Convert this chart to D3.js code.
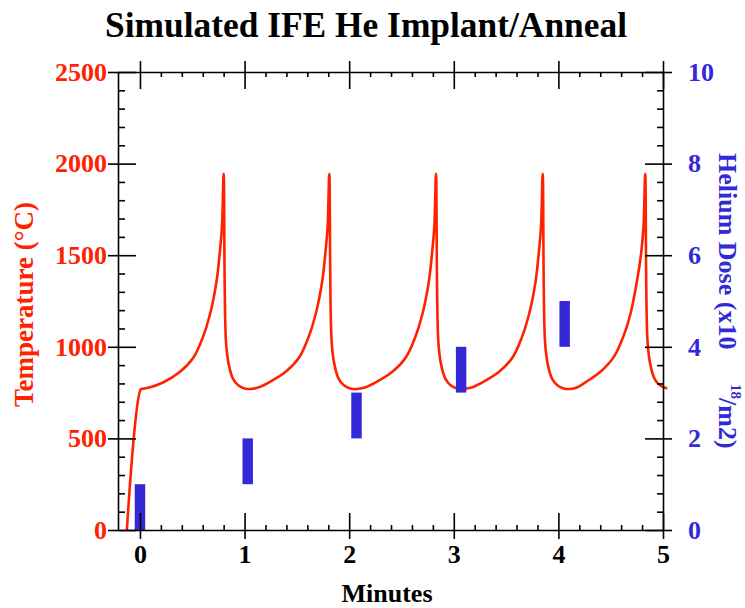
<!DOCTYPE html>
<html><head><meta charset="utf-8">
<script src="https://cdn.jsdelivr.net/npm/d3@7"></script>
<style>body{margin:0;background:#fff}svg{display:block}</style>
</head><body>
<svg id="c" width="745" height="608"></svg>
<script>
// ---- data ----
const times = [-0.125,0.008,0.03,0.08,0.22,0.38,0.51,0.60,0.667,0.73,0.762,0.784,0.80,0.822,0.85,0.89,0.94,1.00,1.06,
  1.12,1.23,1.39,1.52,1.61,1.677,1.74,1.772,1.794,1.81,1.832,1.86,1.90,1.95,2.01,2.07,
  2.14,2.25,2.41,2.54,2.63,2.697,2.76,2.792,2.814,2.83,2.852,2.88,2.92,2.97,3.03,3.09,
  3.16,3.27,3.43,3.56,3.65,3.717,3.78,3.812,3.834,3.85,3.872,3.90,3.94,3.99,4.05,4.11,
  4.17,4.27,4.41,4.53,4.62,4.687,4.75,4.792,4.814,4.83,4.852,4.88,4.92,4.97,5.04];
const temps = [0,768,771,776,805,862,940,1050,1172,1350,1510,1656,1945,1030,900,825,790,773,770,
  776,805,862,940,1050,1172,1350,1510,1656,1945,1030,900,825,790,773,770,
  776,805,862,940,1050,1172,1350,1510,1656,1945,1030,900,825,790,773,770,
  776,805,862,940,1050,1172,1350,1510,1656,1945,1030,900,825,790,773,770,
  776,810,868,945,1055,1175,1355,1515,1660,1945,1030,900,825,790,772];
const barTimes = [0, 1.03, 2.07, 3.07, 4.06];
const doseLow  = [0, 1, 2, 3, 4];
const doseHigh = [1, 2, 3, 4, 5];
const xTicks = [0, 1, 2, 3, 4, 5];
const tempTicks = [0, 500, 1000, 1500, 2000, 2500];
const doseTicks = [0, 2, 4, 6, 8, 10];
const title = "Simulated IFE He Implant/Anneal";

// ---- layout ----
const L = 118, R = 663, T = 72, B = 530;
const RED = "#ff2200", BLUE = "#3329d6";
const FONT = "'Liberation Serif','Times New Roman',serif";
const svg = d3.select("#c");

const x = d3.scaleLinear().domain([-0.21, 5]).range([L, R]);
const yT = d3.scaleLinear().domain([0, 2500]).range([B, T]);
const yD = d3.scaleLinear().domain([0, 10]).range([B, T]);

const xMinor = d3.range(0.2, 5, 0.2).filter(v => Math.abs(v - Math.round(v)) > 1e-6);
const tMinor = d3.range(100, 2500, 100).filter(v => v % 500 !== 0);
const dMinor = d3.range(0.4, 10, 0.4).filter(v => Math.abs(v/2 - Math.round(v/2)) > 1e-6);

function styleAxis(g, color) {
  g.select(".domain").attr("stroke", "#000").attr("stroke-width", 1.6);
  g.selectAll(".tick line").attr("stroke", "#000").attr("stroke-width", 1.6);
  g.selectAll(".tick text").attr("fill", color).attr("font-family", FONT)
    .attr("font-weight", "bold").attr("font-size", 26);
}

// curve
const line = d3.line().x(d => x(d[0])).y(d => yT(d[1])).curve(d3.curveCatmullRom.alpha(0.5));
svg.append("path").datum(times.map((t, i) => [t, temps[i]]))
  .attr("d", line).attr("fill", "none").attr("stroke", RED).attr("stroke-width", 2.6)
  .attr("stroke-linejoin", "round");

// bars
svg.selectAll("rect.bar").data(barTimes).enter().append("rect")
  .attr("x", d => x(d - 0.05)).attr("width", d => x(d + 0.05) - x(d - 0.05))
  .attr("y", (d, i) => yD(doseHigh[i])).attr("height", (d, i) => yD(doseLow[i]) - yD(doseHigh[i]))
  .attr("fill", BLUE);

// bottom axis
const gb = svg.append("g").attr("transform", `translate(0,${B})`);
gb.call(d3.axisBottom(x).tickValues(xTicks).tickFormat(d3.format("d")).tickSize(9).tickPadding(6).tickSizeOuter(0));
styleAxis(gb, "#000");
gb.append("g").call(d3.axisTop(x).tickValues(xTicks).tickSize(17).tickFormat("").tickSizeOuter(0))
  .call(g => { g.select(".domain").remove(); styleAxis(g, "#000"); });
gb.append("g").call(d3.axisTop(x).tickValues(xMinor).tickSize(5).tickFormat("").tickSizeOuter(0))
  .call(g => { g.select(".domain").remove(); styleAxis(g, "#000"); });

// top axis
const gt = svg.append("g").attr("transform", `translate(0,${T})`);
gt.call(d3.axisTop(x).tickValues(xTicks).tickSize(11).tickFormat("").tickSizeOuter(0));
styleAxis(gt, "#000");
gt.append("g").call(d3.axisBottom(x).tickValues(xTicks).tickSize(17).tickFormat("").tickSizeOuter(0))
  .call(g => { g.select(".domain").remove(); styleAxis(g, "#000"); });
gt.append("g").call(d3.axisBottom(x).tickValues(xMinor).tickSize(5).tickFormat("").tickSizeOuter(0))
  .call(g => { g.select(".domain").remove(); styleAxis(g, "#000"); });

// left axis
const gl = svg.append("g").attr("transform", `translate(${L},0)`);
gl.call(d3.axisLeft(yT).tickValues(tempTicks).tickFormat(d3.format("d")).tickSize(10).tickPadding(1).tickSizeOuter(0));
styleAxis(gl, RED);
gl.append("g").call(d3.axisRight(yT).tickValues(tempTicks).tickSize(18).tickFormat("").tickSizeOuter(0))
  .call(g => { g.select(".domain").remove(); styleAxis(g, "#000"); });
gl.append("g").call(d3.axisRight(yT).tickValues(tMinor).tickSize(7).tickFormat("").tickSizeOuter(0))
  .call(g => { g.select(".domain").remove(); styleAxis(g, "#000"); });

// right axis
const gr = svg.append("g").attr("transform", `translate(${R},0)`);
gr.call(d3.axisRight(yD).tickValues(doseTicks).tickFormat(d3.format("d")).tickSize(9).tickPadding(16).tickSizeOuter(0));
styleAxis(gr, BLUE);
gr.append("g").call(d3.axisLeft(yD).tickValues(doseTicks).tickSize(18).tickFormat("").tickSizeOuter(0))
  .call(g => { g.select(".domain").remove(); styleAxis(g, "#000"); });
gr.append("g").call(d3.axisLeft(yD).tickValues(dMinor).tickSize(6).tickFormat("").tickSizeOuter(0))
  .call(g => { g.select(".domain").remove(); styleAxis(g, "#000"); });

// title
svg.append("text").attr("x", 366).attr("y", 37).attr("text-anchor", "middle")
  .attr("font-family", FONT).attr("font-weight", "bold").attr("font-size", 35)
  .attr("textLength", 522).attr("lengthAdjust", "spacingAndGlyphs").text(title);

// x title
svg.append("text").attr("x", 387).attr("y", 602).attr("text-anchor", "middle")
  .attr("font-family", FONT).attr("font-weight", "bold").attr("font-size", 26).text("Minutes");

// left title
svg.append("text").attr("transform", "translate(33,407) rotate(-90)")
  .attr("font-family", FONT).attr("font-weight", "bold").attr("font-size", 27)
  .attr("fill", RED).text("Temperature (°C)");

// right title
const rt = svg.append("g").attr("transform", "translate(719,153) rotate(90)")
  .attr("font-family", FONT).attr("font-weight", "bold").attr("fill", BLUE);
rt.append("text").attr("x", 0).attr("y", 0).attr("font-size", 26).text("Helium Dose (x10");
rt.append("text").attr("x", 231).attr("y", -12).attr("font-size", 15).text("18");
rt.append("text").attr("x", 245).attr("y", 0).attr("font-size", 26).text("/m2)");
</script>
</body></html>
